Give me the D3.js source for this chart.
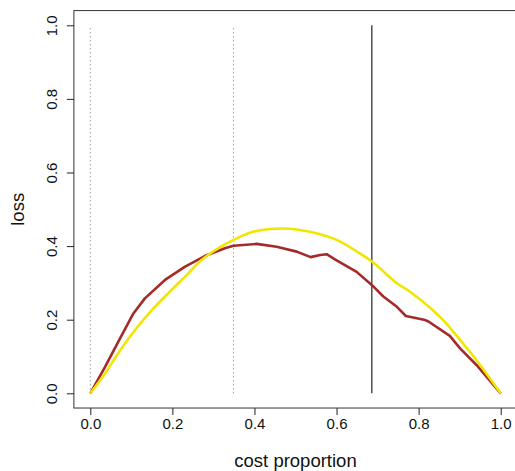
<!DOCTYPE html>
<html>
<head>
<meta charset="utf-8">
<script src="https://cdn.jsdelivr.net/npm/d3@7"></script>
<style>
  body { margin: 0; background: #fff; }
  svg { display: block; font-family: "Liberation Sans", Arial, Helvetica, sans-serif; }
</style>
</head>
<body>
<svg id="chart"></svg>
<script>
// Brown curve (cost proportion, loss)
const brownX = [0, 0.036, 0.068, 0.105, 0.133, 0.182, 0.231, 0.279, 0.328, 0.349, 0.405, 0.454, 0.503, 0.537, 0.560, 0.576, 0.596, 0.649, 0.690, 0.714, 0.747, 0.769, 0.816, 0.824, 0.876, 0.901, 0.941, 1.0];
const brownY = [0, 0.072, 0.140, 0.217, 0.258, 0.308, 0.344, 0.373, 0.394, 0.401, 0.406, 0.398, 0.385, 0.370, 0.376, 0.378, 0.364, 0.330, 0.290, 0.263, 0.235, 0.210, 0.199, 0.195, 0.156, 0.122, 0.077, 0];

// Yellow curve
const yellowX = [0, 0.036, 0.068, 0.109, 0.150, 0.190, 0.231, 0.271, 0.316, 0.349, 0.397, 0.470, 0.535, 0.600, 0.657, 0.690, 0.747, 0.779, 0.820, 0.860, 0.901, 0.941, 1.0];
const yellowY = [0, 0.054, 0.109, 0.172, 0.226, 0.272, 0.317, 0.362, 0.397, 0.417, 0.439, 0.448, 0.439, 0.417, 0.380, 0.355, 0.299, 0.276, 0.240, 0.199, 0.145, 0.090, 0];

// Vertical reference lines
const dottedLines = [0, 0.349];
const solidLines = [0.686];

const xTicks = [0, 0.2, 0.4, 0.6, 0.8, 1.0];
const yTicks = [0, 0.2, 0.4, 0.6, 0.8, 1.0];

const width = 515;
const height = 471;

const svg = d3.select("#chart").attr("width", width).attr("height", height);

// Scales (R style: 4% padding around [0,1])
const xScale = d3.scaleLinear().domain([0, 1]).range([90.3, 500.7]);
const yScale = d3.scaleLinear().domain([0, 1]).range([393.3, 25.3]);

const pad = 0.04;
const box = {
  x0: xScale(-pad), x1: xScale(1 + pad),
  y0: yScale(1 + pad), y1: yScale(-pad)
};

// Plot box
svg.append("rect")
  .attr("x", box.x0)
  .attr("y", box.y0)
  .attr("width", box.x1 - box.x0)
  .attr("height", box.y1 - box.y0)
  .attr("fill", "none")
  .attr("stroke", "#333")
  .attr("stroke-width", 1);

// Dotted verticals
svg.selectAll(".vdot")
  .data(dottedLines)
  .enter()
  .append("line")
  .attr("class", "vdot")
  .attr("x1", (d) => xScale(d))
  .attr("x2", (d) => xScale(d))
  .attr("y1", yScale(0))
  .attr("y2", yScale(1))
  .attr("stroke", "#777")
  .attr("stroke-width", 1)
  .attr("stroke-dasharray", "1,3");

// Solid vertical
svg.selectAll(".vsolid")
  .data(solidLines)
  .enter()
  .append("line")
  .attr("class", "vsolid")
  .attr("x1", (d) => xScale(d))
  .attr("x2", (d) => xScale(d))
  .attr("y1", yScale(0))
  .attr("y2", yScale(1))
  .attr("stroke", "#222")
  .attr("stroke-width", 1.2);

const line = d3.line()
  .x((d) => xScale(d[0]))
  .y((d) => yScale(d[1]));

svg.append("path")
  .datum(brownX.map((x, i) => [x, brownY[i]]))
  .attr("fill", "none")
  .attr("stroke", "#A52A2A")
  .attr("stroke-width", 2.6)
  .attr("stroke-linejoin", "round")
  .attr("d", line);

// Yellow is smooth, so a catmull-rom through the read points
svg.append("path")
  .datum(yellowX.map((x, i) => [x, yellowY[i]]))
  .attr("fill", "none")
  .attr("stroke", "#F2E600")
  .attr("stroke-width", 2.6)
  .attr("stroke-linejoin", "round")
  .attr("d", line.curve(d3.curveCatmullRom.alpha(0.5)));

// X axis
const xAxis = svg.append("g")
  .attr("transform", `translate(0, ${box.y1})`)
  .call(d3.axisBottom(xScale).tickValues(xTicks).tickFormat(d3.format(".1f")).tickSize(7).tickSizeOuter(0));
xAxis.select(".domain").remove();
xAxis.selectAll("line").attr("stroke", "#222");
xAxis.selectAll("text")
  .attr("y", 21)
  .attr("dy", 0)
  .attr("fill", "#111")
  .style("font-size", "15px")
  .style("font-family", "'Liberation Sans', Arial, sans-serif");

// Y axis
const yAxis = svg.append("g")
  .attr("transform", `translate(${box.x0}, 0)`)
  .call(d3.axisLeft(yScale).tickValues(yTicks).tickFormat(d3.format(".1f")).tickSize(7).tickSizeOuter(0));
yAxis.select(".domain").remove();
yAxis.selectAll("line").attr("stroke", "#222");
yAxis.selectAll("text")
  .attr("transform", "rotate(-90)")
  .attr("text-anchor", "middle")
  .attr("x", 0)
  .attr("y", -17.3)
  .attr("dy", 0)
  .attr("fill", "#111")
  .style("font-size", "15px")
  .style("font-family", "'Liberation Sans', Arial, sans-serif");

// Axis labels
svg.append("text")
  .attr("text-anchor", "middle")
  .attr("x", (box.x0 + box.x1) / 2)
  .attr("y", 467)
  .style("font-size", "18.5px")
  .attr("fill", "#111")
  .text("cost proportion");

svg.append("text")
  .attr("text-anchor", "middle")
  .attr("transform", "rotate(-90)")
  .attr("x", -(box.y0 + box.y1) / 2)
  .attr("y", 24)
  .style("font-size", "18.5px")
  .attr("fill", "#111")
  .text("loss");
</script>
</body>
</html>
